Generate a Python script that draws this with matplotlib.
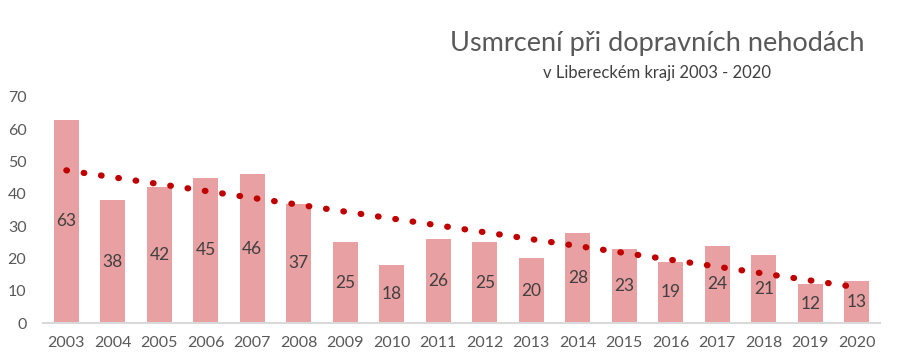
import numpy as np
import matplotlib.pyplot as plt

plt.rcParams['font.family'] = ['Lato', 'DejaVu Sans']

years = [2003, 2004, 2005, 2006, 2007, 2008, 2009, 2010, 2011,
         2012, 2013, 2014, 2015, 2016, 2017, 2018, 2019, 2020]
deaths = [63, 38, 42, 45, 46, 37, 25, 18, 26, 25, 20, 28, 23, 19, 24, 21, 12, 13]

x = np.arange(len(years))

fig = plt.figure(figsize=(8.98, 3.64), dpi=100)
ax = fig.add_axes([0.048, 0.1126, 0.932, 0.621])

ax.bar(x, deaths, width=0.54, color='#E8A0A2', zorder=2)
for xi, v in zip(x, deaths):
    ax.text(xi, v / 2, str(v), ha='center', va='center', fontsize=12.5, color='#404040', zorder=3)

# linear trendline
k, q = np.polyfit(x, deaths, 1)
ax.plot(x, k * x + q, color='#C00000', linestyle=(0, (0.1, 2.7)), linewidth=4.5,
        dash_capstyle='round', zorder=4)

ax.set_xlim(-0.5, 17.5)
ax.set_ylim(0, 70)
ax.set_yticks(range(0, 71, 10))
ax.set_xticks(x)
ax.set_xticklabels([str(y) for y in years])
ax.tick_params(length=0, labelsize=11.5, colors='#595959')
ax.tick_params(axis='x', pad=9)
ax.tick_params(axis='y', pad=12)
for s in ['top', 'right', 'left']:
    ax.spines[s].set_visible(False)
ax.spines['bottom'].set_color('#D9D9D9')
ax.spines['bottom'].set_linewidth(1.5)

fig.text(0.732, 0.88, 'Usmrcení při dopravních nehodách', ha='center', va='center',
         fontsize=19.5, color='#595959')
fig.text(0.732, 0.80, 'v Libereckém kraji 2003 - 2020', ha='center', va='center',
         fontsize=12, color='#404040')

fig.savefig('out.png', dpi=100)
